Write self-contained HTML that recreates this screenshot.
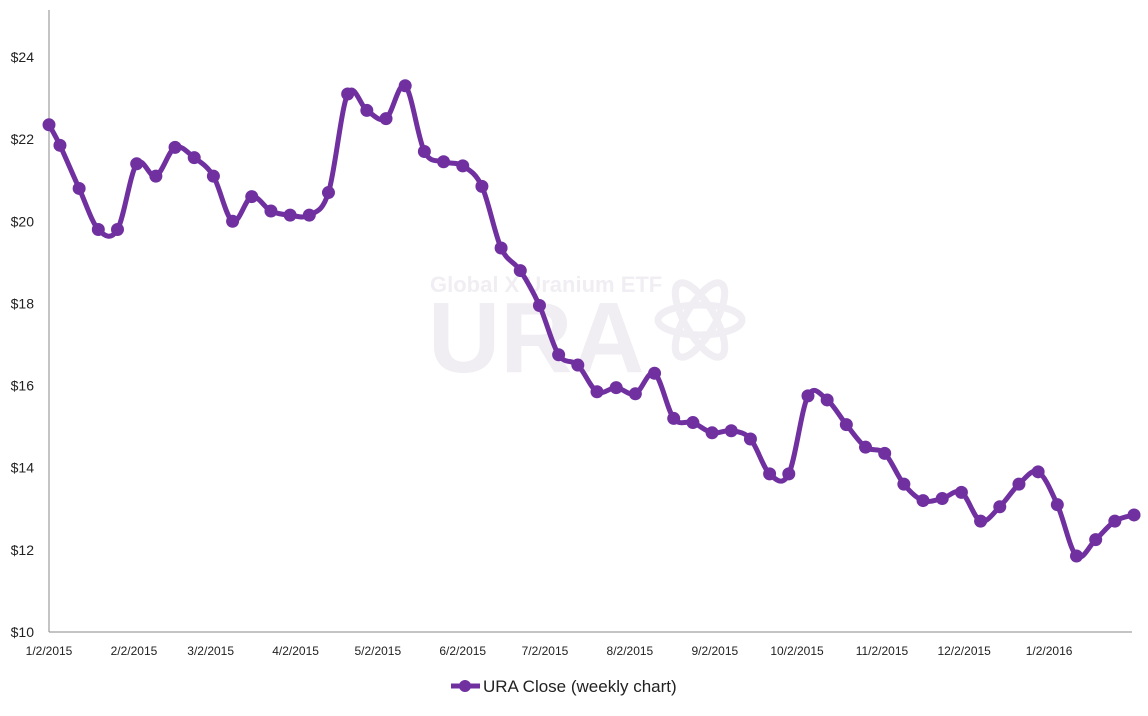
<!DOCTYPE html>
<html><head><meta charset="utf-8"><style>
html,body{margin:0;padding:0;background:#fff;}
svg text{font-family:"Liberation Sans",sans-serif;}
</style></head><body>
<svg id="chart" width="1148" height="711" viewBox="0 0 1148 711" xmlns="http://www.w3.org/2000/svg">
<g opacity="0.12" fill="#8a6fa0">
<text x="430" y="292" font-size="22" font-weight="bold">Global X Uranium ETF</text>
<text x="428" y="372" font-size="100" font-weight="bold">URA</text>
<g fill="none" stroke="#8a6fa0" stroke-width="7">
<ellipse cx="700" cy="320" rx="42" ry="15"/>
<ellipse cx="700" cy="320" rx="42" ry="15" transform="rotate(60 700 320)"/>
<ellipse cx="700" cy="320" rx="42" ry="15" transform="rotate(-60 700 320)"/>
</g></g>
<line x1="49" y1="10" x2="49" y2="632" stroke="#888" stroke-width="1"/>
<line x1="49" y1="632" x2="1132" y2="632" stroke="#888" stroke-width="1"/>
<g id="yticks"></g><g id="xticks"></g>
<path id="line" fill="none" stroke="#7030a0" stroke-width="5" stroke-linejoin="round"/>
<g id="points"></g>
<g>
<line x1="451" y1="686" x2="480" y2="686" stroke="#7030a0" stroke-width="5"/>
<circle cx="465" cy="686" r="6" fill="#7030a0"/>
<text x="483" y="692" font-size="17" fill="#222">URA Close (weekly chart)</text>
</g>
</svg>
<script>
const yTicks=[10,12,14,16,18,20,22,24];
const xTickLabels=["1/2/2015","2/2/2015","3/2/2015","4/2/2015","5/2/2015","6/2/2015","7/2/2015","8/2/2015","9/2/2015","10/2/2015","11/2/2015","12/2/2015","1/2/2016"];
const dayOffsets=[0,4,11,18,25,32,39,46,53,60,67,74,81,88,95,102,109,116,123,130,137,144,151,158,165,172,179,186,193,200,207,214,221,228,235,242,249,256,263,270,277,284,291,298,305,312,319,326,333,340,347,354,361,368,375,382,389,396];
const closes=[22.35,21.85,20.8,19.8,19.8,21.4,21.1,21.8,21.55,21.1,20.0,20.6,20.25,20.15,20.15,20.7,23.1,22.7,22.5,23.3,21.7,21.45,21.35,20.85,19.35,18.8,17.95,16.75,16.5,15.85,15.95,15.8,16.3,15.2,15.1,14.85,14.9,14.7,13.85,13.85,15.75,15.65,15.05,14.5,14.35,13.6,13.2,13.25,13.4,12.7,13.05,13.6,13.9,13.1,11.85,12.25,12.7,12.85];
const NS="http://www.w3.org/2000/svg";
const t0=Date.UTC(2015,0,2);
function xDay(d){return 49+d*2.74;}
function y(v){return 632-(v-10)*41.07;}
function dayOfLabel(s){const p=s.split('/');return (Date.UTC(+p[2],p[0]-1,+p[1])-t0)/86400000;}
const yg=document.getElementById('yticks');
yTicks.forEach(v=>{const t=document.createElementNS(NS,'text');


t.setAttribute('x',34);t.setAttribute('y',y(v)+5);t.setAttribute('text-anchor','end');t.setAttribute('font-size','14');t.setAttribute('fill','#222');t.textContent='$'+v;yg.appendChild(t);});
const xg=document.getElementById('xticks');
xTickLabels.forEach(s=>{const t=document.createElementNS(NS,'text');


t.setAttribute('x',xDay(dayOfLabel(s)));t.setAttribute('y',655);t.setAttribute('text-anchor','middle');t.setAttribute('font-size','12');t.setAttribute('fill','#222');t.textContent=s;xg.appendChild(t);});
const pts=closes.map((v,i)=>[xDay(dayOffsets[i]),y(v)]);
let d='M'+pts[0][0]+','+pts[0][1];
for(let i=0;i<pts.length-1;i++){const p0=pts[i-1]||pts[i],p1=pts[i],p2=pts[i+1],p3=pts[i+2]||p2;const k=6;
d+=' C'+(p1[0]+(p2[0]-p0[0])/k)+','+(p1[1]+(p2[1]-p0[1])/k)+' '+(p2[0]-(p3[0]-p1[0])/k)+','+(p2[1]-(p3[1]-p1[1])/k)+' '+p2[0]+','+p2[1];}
document.getElementById('line').setAttribute('d',d);
const pg=document.getElementById('points');
pts.forEach(p=>{const c=document.createElementNS(NS,'circle');


c.setAttribute('cx',p[0]);c.setAttribute('cy',p[1]);c.setAttribute('r',6.5);c.setAttribute('fill','#7030a0');pg.appendChild(c);});
</script>
</body></html>
